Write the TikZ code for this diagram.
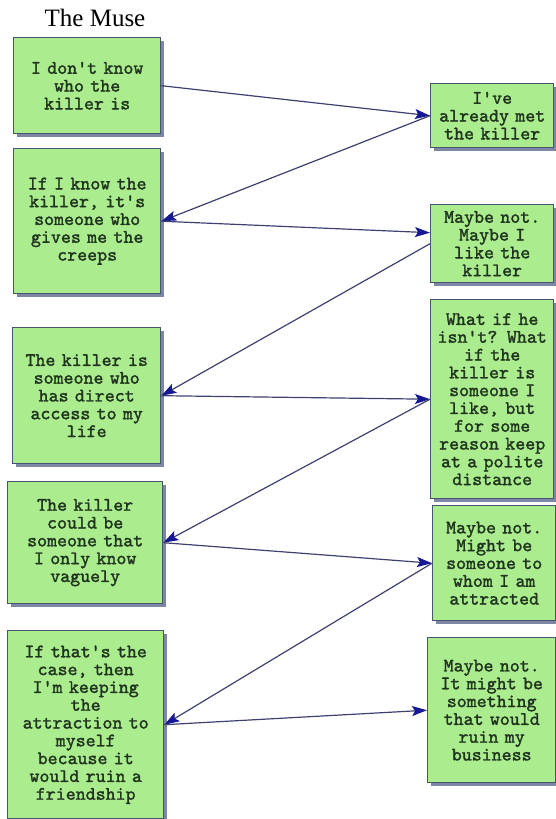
\documentclass[tikz,border=0pt]{standalone}
\usepackage{fontspec}
\usetikzlibrary{arrows.meta,shadows}
\newfontfamily\titlefont{Liberation Serif}
\newfontfamily\cardfont{lmmono10-regular}[Extension=.otf, FakeBold=1.6]
\definecolor{cardgreen}{RGB}{170,236,142}
\definecolor{cardedge}{RGB}{70,84,112}
\definecolor{cardshade}{RGB}{125,135,165}
\definecolor{cardtext}{RGB}{32,52,30}
\definecolor{linkgray}{RGB}{62,64,112}
\definecolor{tipblue}{RGB}{22,24,150}

\begin{document}
\begin{tikzpicture}[x=1pt, y=-1pt,
		card/.style 2 args={draw=cardedge, line width=1.4pt, fill=cardgreen,
			drop shadow={shadow xshift=3pt, shadow yshift=-3pt, fill=cardshade, opacity=1},
			anchor=north west, inner xsep=0pt, inner ysep=2pt, align=center,
			text width=#1, minimum height=#2, text=cardtext,
			font=\cardfont\fontsize{19}{17.8}\selectfont},
		link/.style={draw=linkgray, line width=1.2pt,
			-{Stealth[length=15pt, width=10pt, inset=3pt, color=tipblue]}}]
		\useasboundingbox (0,0) rectangle (556,819);
		\node[font=\titlefont\fontsize{25}{25}\selectfont, anchor=base] (title) at (95,26) {The Muse};
		\node[card={147pt}{96pt}] (L1) at (13,37) {I don't know\\who the\\killer is};
		\node[card={147pt}{145pt}] (L2) at (13,148) {If I know the\\killer, it's\\someone who\\gives me the\\creeps};
		\node[card={148pt}{136pt}] (L3) at (12,327) {The killer is\\someone who\\has direct\\access to my\\life};
		\node[card={155pt}{122pt}] (L4) at (7,481) {The killer\\could be\\someone that\\I only know\\vaguely};
		\node[card={156pt}{188pt}] (L5) at (7,630) {If that's the\\case, then\\I'm keeping\\the\\attraction to\\myself\\because it\\would ruin a\\friendship};
		\node[card={123pt}{64pt}] (R1) at (430,83) {I've\\already met\\the killer};
		\node[card={123pt}{78pt}] (R2) at (430,204) {Maybe not.\\Maybe I\\like the\\killer};
		\node[card={123pt}{199pt}] (R3) at (430,299) {What if he\\isn't? What\\if the\\killer is\\someone I\\like, but\\for some\\reason keep\\at a polite\\distance};
		\node[card={123pt}{115pt}] (R4) at (432,505) {Maybe not.\\Might be\\someone to\\whom I am\\attracted};
		\node[card={128pt}{145pt}] (R5) at (427,637) {Maybe not.\\It might be\\something\\that would\\ruin my\\business};
		\draw[link] (L1.east) -- (R1.west);
		\draw[link] (R1.west) -- (L2.east);
		\draw[link] (L2.east) -- ([yshift=11pt]R2.west);
		\draw[link] (R2.west) -- (L3.east);
		\draw[link] (L3.east) -- (R3.west);
		\draw[link] (R3.west) -- (L4.east);
		\draw[link] (L4.east) -- (R4.west);
		\draw[link] (R4.west) -- (L5.east);
		\draw[link] (L5.east) -- (R5.west);
\end{tikzpicture}
\end{document}
